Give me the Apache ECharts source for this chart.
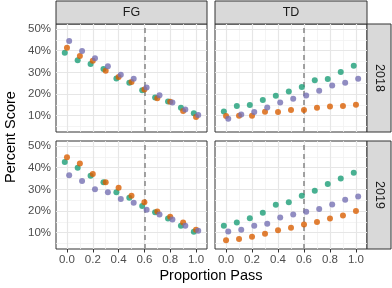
<!DOCTYPE html>
<html><head><meta charset="utf-8">
<script src="https://cdn.jsdelivr.net/npm/echarts@6/dist/echarts.min.js"></script>
<style>html,body{margin:0;padding:0;background:#fff}#c{width:392px;height:288px}</style>
</head><body><div id="c"></div>
<script>
// ---- data ----
const proportions = [0, 0.1, 0.2, 0.3, 0.4, 0.5, 0.6, 0.7, 0.8, 0.9, 1.0];
const colFacets = ['FG', 'TD'];
const rowFacets = ['2018', '2019'];
const groups = ['Group 1', 'Group 2', 'Group 3'];

const fg2018G1 = [39.1, 35.6, 33.8, 31.6, 27.2, 25.2, 21.8, 18.4, 16.6, 13.7, 11.2];
const fg2018G2 = [41.4, 37.6, 35.3, 30.8, 27.9, 25.6, 22.1, 18.1, 16.4, 12.2, 9.4];
const fg2018G3 = [44.5, 39.9, 36.5, 32.8, 28.9, 27.0, 23.0, 19.5, 16.1, 12.9, 10.3];
const td2018G1 = [12.0, 14.5, 14.9, 17.2, 19.2, 21.2, 23.2, 26.4, 26.9, 30.2, 33.0];
const td2018G2 = [9.9, 10.0, 10.0, 11.8, 11.7, 12.6, 12.6, 13.7, 14.3, 14.5, 15.1];
const td2018G3 = [8.6, 10.6, 11.7, 13.8, 16.1, 17.8, 19.3, 21.5, 23.9, 25.2, 27.0];
const fg2019G1 = [42.6, 40.0, 36.3, 33.3, 28.7, 26.1, 22.3, 19.5, 16.6, 13.2, 10.5];
const fg2019G2 = [44.8, 41.9, 37.1, 33.3, 30.7, 27.1, 24.1, 19.8, 17.4, 14.7, 11.4];
const fg2019G3 = [36.5, 33.9, 30.1, 28.7, 25.5, 23.8, 20.6, 18.4, 16.1, 13.2, 10.9];
const td2019G1 = [13.2, 14.7, 16.7, 19.2, 22.9, 24.1, 27.1, 29.4, 32.5, 35.0, 37.7];
const td2019G2 = [6.5, 7.1, 8.2, 9.5, 11.1, 12.3, 13.8, 14.9, 16.6, 18.0, 20.0];
const td2019G3 = [10.6, 11.4, 13.2, 14.1, 17.0, 18.4, 19.7, 20.9, 23.0, 25.2, 26.7];

const xTicks = [0, 0.2, 0.4, 0.6, 0.8, 1.0];
const xMinor = [0.1, 0.3, 0.5, 0.7, 0.9];
const yTicks = [10, 20, 30, 40, 50];
const yMinor = [5, 15, 25, 35, 45];
const cutoff = 0.6;

// ---- layout / style ----
const colors = ['#1B9E77', '#D95F02', '#7570B3'];
const dodge = [-0.017, 0, 0.017];
const panels = [
  { col: 0, row: 0, vals: [fg2018G1, fg2018G2, fg2018G3] },
  { col: 1, row: 0, vals: [td2018G1, td2018G2, td2018G3] },
  { col: 0, row: 1, vals: [fg2019G1, fg2019G2, fg2019G3] },
  { col: 1, row: 1, vals: [td2019G1, td2019G2, td2019G3] }
];
const colLeft = [56, 215], colWidth = [151, 152];
const rowTop = [24, 141], rowHeight = 108;
const stripX = 367, stripW = 24, stripTop = 1, stripH = 23;

const grids = [], xAxes = [], yAxes = [], series = [];
panels.forEach((p, i) => {
  grids.push({ left: colLeft[p.col], top: rowTop[p.row], width: colWidth[p.col], height: rowHeight,
    show: true, borderColor: '#333333', borderWidth: 1, backgroundColor: '#fff', containLabel: false });
  xAxes.push({ type: 'value', gridIndex: i, min: -0.085, max: 1.085,
    axisLine: { show: false }, splitLine: { show: false },
    axisTick: { show: p.row === 1, customValues: xTicks, length: 3.5, lineStyle: { color: '#333' } },
    axisLabel: { show: p.row === 1, customValues: xTicks, color: '#4d4d4d', fontSize: 11.5, margin: 5,
      fontFamily: 'Liberation Sans', formatter: v => v.toFixed(1) } });
  yAxes.push({ type: 'value', gridIndex: i, min: 2.5, max: 52.3,
    axisLine: { show: false }, splitLine: { show: false },
    axisTick: { show: p.col === 0, customValues: yTicks, length: 3.5, lineStyle: { color: '#333' } },
    axisLabel: { show: p.col === 0, customValues: yTicks, color: '#4d4d4d', fontSize: 11.5, margin: 5,
      fontFamily: 'Liberation Sans', formatter: v => v + '%' } });
  const ml = [];
  xMinor.forEach(v => ml.push({ xAxis: v, lineStyle: { color: '#f1f1f1', width: 0.8, type: 'solid' } }));
  yMinor.forEach(v => ml.push({ yAxis: v, lineStyle: { color: '#f1f1f1', width: 0.8, type: 'solid' } }));
  xTicks.forEach(v => ml.push({ xAxis: v, lineStyle: { color: '#e6e6e6', width: 1.2, type: 'solid' } }));
  yTicks.forEach(v => ml.push({ yAxis: v, lineStyle: { color: '#e6e6e6', width: 1.2, type: 'solid' } }));
  ml.push({ xAxis: cutoff, lineStyle: { color: '#8c8c8c', width: 1.6, type: [5, 4] } });
  series.push({ type: 'scatter', xAxisIndex: i, yAxisIndex: i, data: [], z: 1, silent: true,
    markLine: { z: 1, silent: true, symbol: ['none', 'none'], label: { show: false }, animation: false, data: ml } });
  p.vals.forEach((arr, g) => {
    series.push({ type: 'scatter', name: groups[g], xAxisIndex: i, yAxisIndex: i, z: 10,
      symbolSize: 6, itemStyle: { color: colors[g], opacity: 0.8 },
      data: arr.map((v, k) => [proportions[k] + dodge[g], v]) });
  });
});

const graphics = [];
colFacets.forEach((t, c) => {
  graphics.push({ type: 'rect', shape: { x: colLeft[c], y: stripTop, width: colWidth[c], height: stripH },
    style: { fill: '#d9d9d9', stroke: '#333333', lineWidth: 1 } });
  graphics.push({ type: 'text', x: colLeft[c] + colWidth[c] / 2, y: stripTop + stripH / 2,
    style: { text: t, fill: '#1a1a1a', font: '12.5px "Liberation Sans"', align: 'center', verticalAlign: 'middle' } });
});
rowFacets.forEach((t, r) => {
  graphics.push({ type: 'rect', shape: { x: stripX, y: rowTop[r], width: stripW, height: rowHeight },
    style: { fill: '#d9d9d9', stroke: '#333333', lineWidth: 1 } });
  graphics.push({ type: 'text', x: stripX + stripW / 2, y: rowTop[r] + rowHeight / 2, rotation: -Math.PI / 2,
    style: { text: t, fill: '#1a1a1a', font: '12.5px "Liberation Sans"', align: 'center', verticalAlign: 'middle' } });
});
graphics.push({ type: 'text', x: 211, y: 276,
  style: { text: 'Proportion Pass', fill: '#000', font: '14.5px "Liberation Sans"', align: 'center', verticalAlign: 'middle' } });
graphics.push({ type: 'text', x: 11, y: 137, rotation: Math.PI / 2,
  style: { text: 'Percent Score', fill: '#000', font: '14.5px "Liberation Sans"', align: 'center', verticalAlign: 'middle' } });

const chart = echarts.init(document.getElementById('c'), null, { renderer: 'canvas' });
chart.setOption({ animation: false, grid: grids, xAxis: xAxes, yAxis: yAxes, series: series, graphic: graphics });
</script></body></html>
